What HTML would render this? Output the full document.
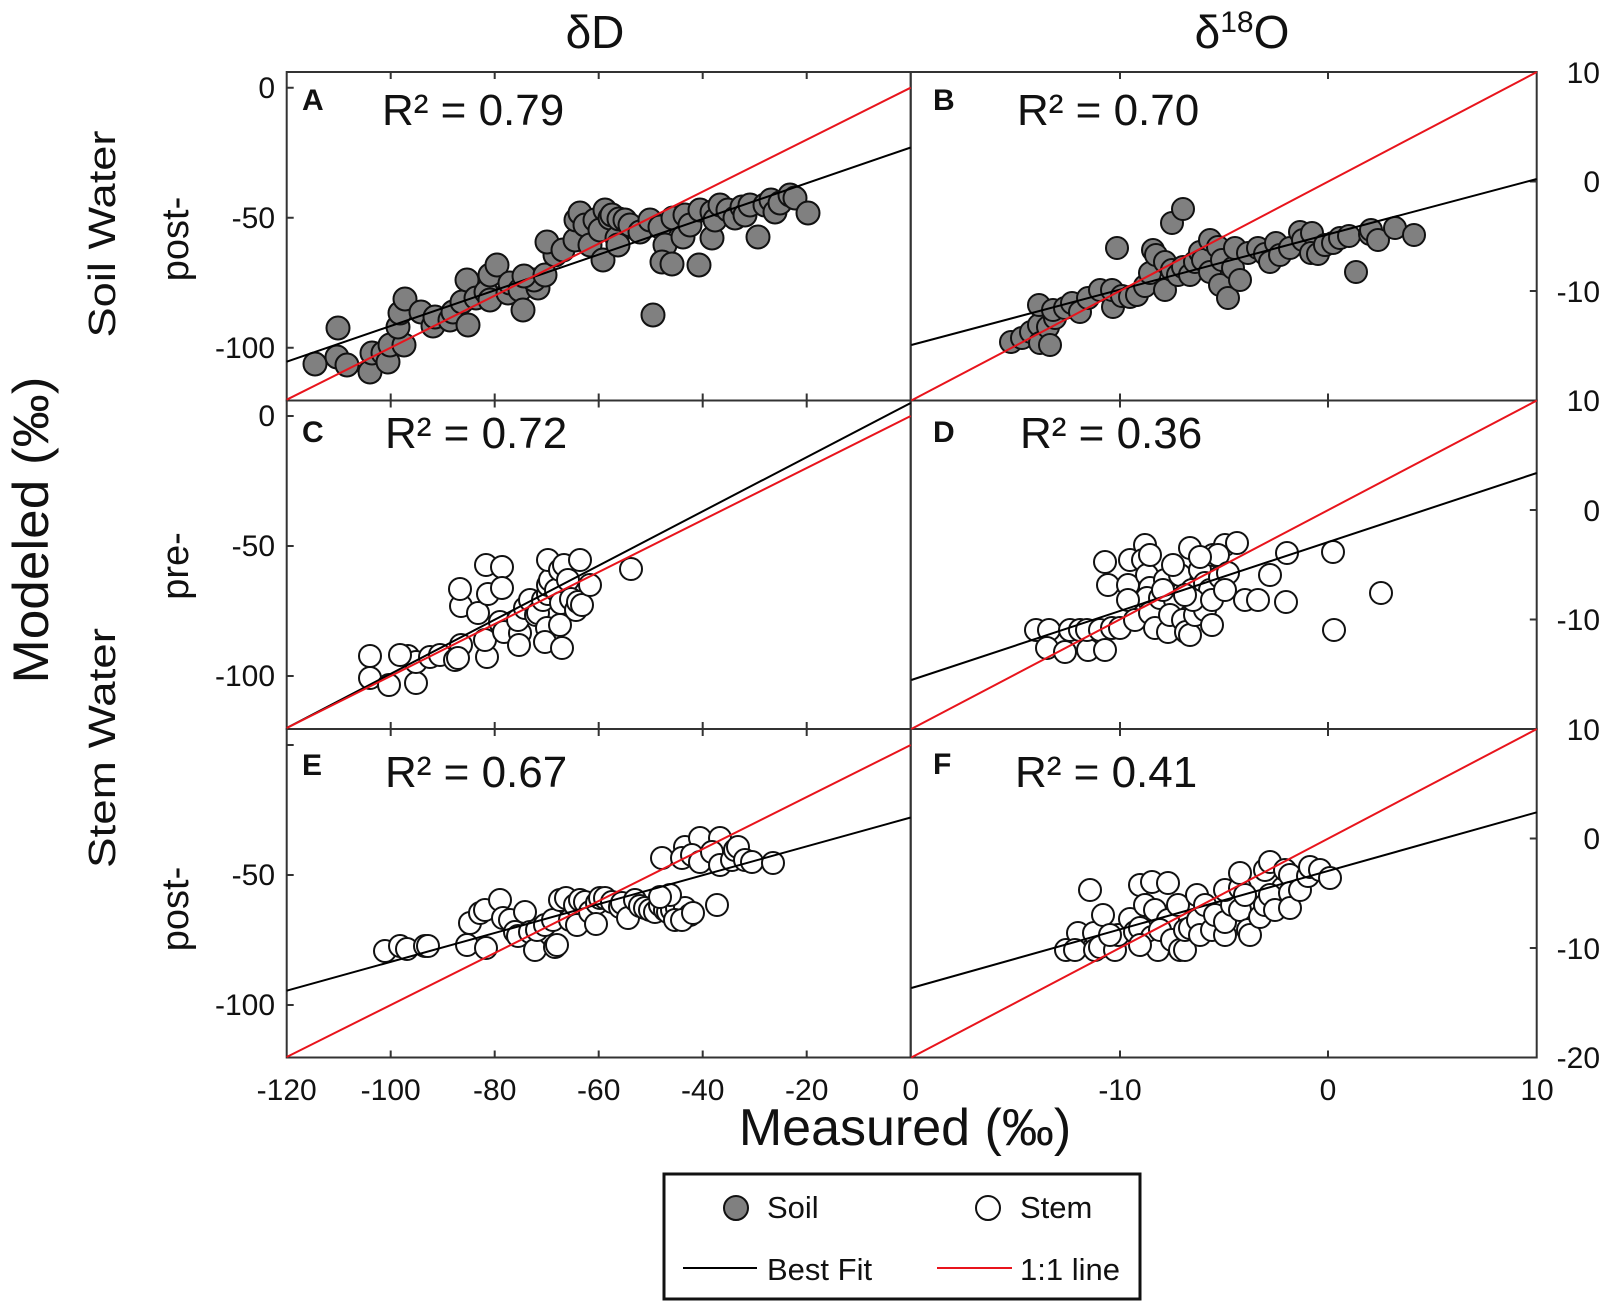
<!DOCTYPE html>
<html><head><meta charset="utf-8"><style>
html,body{margin:0;padding:0;background:#fff}
svg{display:block}
text{font-family:"Liberation Sans",Arial,sans-serif;fill:#111}
</style></head><body>
<svg width="1600" height="1302" viewBox="0 0 1600 1302" xmlns="http://www.w3.org/2000/svg">
<text x="595" y="48" font-size="46" text-anchor="middle">δD</text>
<text x="1242" y="48" font-size="46" text-anchor="middle">δ<tspan font-size="30" dy="-16">18</tspan><tspan dy="16">O</tspan></text>
<text transform="translate(48,530) rotate(-90)" font-size="50" text-anchor="middle" textLength="307" lengthAdjust="spacingAndGlyphs">Modeled (‰)</text>
<text transform="translate(115,234) rotate(-90)" font-size="38" text-anchor="middle" textLength="207" lengthAdjust="spacingAndGlyphs">Soil Water</text>
<text transform="translate(188,239) rotate(-90)" font-size="38" text-anchor="middle">post-</text>
<text transform="translate(188,566) rotate(-90)" font-size="38" text-anchor="middle">pre-</text>
<text transform="translate(115,748) rotate(-90)" font-size="38" text-anchor="middle" textLength="240" lengthAdjust="spacingAndGlyphs">Stem Water</text>
<text transform="translate(188,909) rotate(-90)" font-size="38" text-anchor="middle">post-</text>
<text x="905" y="1145" font-size="52" text-anchor="middle">Measured (‰)</text>

<g font-size="30" text-anchor="middle">
<text x="286.7" y="1100">-120</text><text x="390.7" y="1100">-100</text><text x="494.7" y="1100">-80</text>
<text x="598.7" y="1100">-60</text><text x="702.7" y="1100">-40</text><text x="806.7" y="1100">-20</text>
<text x="910.7" y="1100">0</text><text x="1120" y="1100">-10</text><text x="1328" y="1100">0</text><text x="1537" y="1100">10</text>
</g>
<g font-size="30" text-anchor="end">
<text x="275" y="98">0</text><text x="275" y="228">-50</text><text x="275" y="358">-100</text>
<text x="275" y="426">0</text><text x="275" y="556">-50</text><text x="275" y="686">-100</text>
<text x="275" y="885">-50</text><text x="275" y="1015">-100</text>
</g>
<g font-size="30" text-anchor="end">
<text x="1600" y="83">10</text><text x="1600" y="192">0</text><text x="1600" y="302">-10</text>
<text x="1600" y="411">10</text><text x="1600" y="521">0</text><text x="1600" y="630">-10</text>
<text x="1600" y="740">10</text><text x="1600" y="849">0</text><text x="1600" y="959">-10</text><text x="1600" y="1068">-20</text>
</g>

<g fill="none" stroke="#333" stroke-width="2">
<rect x="286.7" y="72" width="624" height="328.5"/>
<rect x="286.7" y="400.5" width="624" height="328.5"/>
<rect x="286.7" y="729" width="624" height="328.5"/>
<rect x="910.7" y="72" width="626" height="328.5"/>
<rect x="910.7" y="400.5" width="626" height="328.5"/>
<rect x="910.7" y="729" width="626" height="328.5"/>
</g>
<g stroke="#333" stroke-width="2">
<path d="M390.7 72v7M494.7 72v7M598.7 72v7M702.7 72v7M806.7 72v7M390.7 400.5v-7M494.7 400.5v-7M598.7 400.5v-7M702.7 400.5v-7M806.7 400.5v-7
M390.7 400.5v7M494.7 400.5v7M598.7 400.5v7M702.7 400.5v7M806.7 400.5v7M390.7 729v-7M494.7 729v-7M598.7 729v-7M702.7 729v-7M806.7 729v-7
M390.7 729v7M494.7 729v7M598.7 729v7M702.7 729v7M806.7 729v7M390.7 1057.5v-7M494.7 1057.5v-7M598.7 1057.5v-7M702.7 1057.5v-7M806.7 1057.5v-7
M1120 72v7M1328 72v7M1120 400.5v-7M1328 400.5v-7M1120 400.5v7M1328 400.5v7M1120 729v-7M1328 729v-7M1120 729v7M1328 729v7M1120 1057.5v-7M1328 1057.5v-7
M286.7 87.7h7M286.7 217.7h7M286.7 347.7h7M286.7 416h7M286.7 546h7M286.7 676h7M286.7 745h7M286.7 875h7M286.7 1005h7
M1536.8 181.5h-7M1536.8 291h-7M1536.8 510h-7M1536.8 619.5h-7M1536.8 838.5h-7M1536.8 948h-7"/>
</g>

<g font-size="30" font-weight="bold">
<text x="302" y="110">A</text><text x="933" y="110">B</text>
<text x="302" y="442">C</text><text x="933" y="442">D</text>
<text x="302" y="775">E</text><text x="933" y="774">F</text>
</g>
<g font-size="44">
<text x="382" y="125">R² = 0.79</text><text x="1017" y="125">R² = 0.70</text>
<text x="385" y="448">R² = 0.72</text><text x="1020" y="448">R² = 0.36</text>
<text x="385" y="787">R² = 0.67</text><text x="1015" y="787">R² = 0.41</text>
</g>

<!-- Panel A points -->
<g fill="#808080" stroke="#111" stroke-width="2">
<circle cx="315" cy="364" r="11.5"/><circle cx="337" cy="357" r="11.5"/><circle cx="338" cy="328" r="11.5"/><circle cx="347" cy="365" r="11.5"/><circle cx="370" cy="372" r="11.5"/><circle cx="372" cy="353" r="11.5"/><circle cx="383" cy="353" r="11.5"/><circle cx="388" cy="362" r="11.5"/><circle cx="390" cy="345" r="11.5"/><circle cx="404" cy="345" r="11.5"/><circle cx="398" cy="327" r="11.5"/><circle cx="400" cy="313" r="11.5"/><circle cx="405" cy="299" r="11.5"/><circle cx="421" cy="312" r="11.5"/><circle cx="433" cy="326" r="11.5"/><circle cx="435" cy="317" r="11.5"/><circle cx="450" cy="320" r="11.5"/><circle cx="453" cy="312" r="11.5"/><circle cx="462" cy="302" r="11.5"/><circle cx="468" cy="325" r="11.5"/><circle cx="467" cy="280" r="11.5"/><circle cx="476" cy="298" r="11.5"/><circle cx="486" cy="292" r="11.5"/><circle cx="490" cy="275" r="11.5"/><circle cx="497" cy="265" r="11.5"/><circle cx="490" cy="300" r="11.5"/><circle cx="508" cy="293" r="11.5"/><circle cx="510" cy="283" r="11.5"/><circle cx="520" cy="290" r="11.5"/><circle cx="538" cy="288" r="11.5"/><circle cx="534" cy="280" r="11.5"/><circle cx="523" cy="310" r="11.5"/><circle cx="524" cy="276" r="11.5"/><circle cx="545" cy="275" r="11.5"/><circle cx="555" cy="255" r="11.5"/><circle cx="547" cy="242" r="11.5"/><circle cx="563" cy="250" r="11.5"/><circle cx="575" cy="240" r="11.5"/><circle cx="576" cy="220" r="11.5"/><circle cx="580" cy="213" r="11.5"/><circle cx="585" cy="225" r="11.5"/><circle cx="590" cy="245" r="11.5"/><circle cx="595" cy="220" r="11.5"/><circle cx="600" cy="230" r="11.5"/><circle cx="605" cy="210" r="11.5"/><circle cx="603" cy="260" r="11.5"/><circle cx="610" cy="218" r="11.5"/><circle cx="612" cy="215" r="11.5"/><circle cx="617" cy="238" r="11.5"/><circle cx="618" cy="245" r="11.5"/><circle cx="619" cy="219" r="11.5"/><circle cx="625" cy="220" r="11.5"/><circle cx="630" cy="225" r="11.5"/><circle cx="640" cy="232" r="11.5"/><circle cx="650" cy="220" r="11.5"/><circle cx="660" cy="227" r="11.5"/><circle cx="665" cy="245" r="11.5"/><circle cx="673" cy="218" r="11.5"/><circle cx="683" cy="237" r="11.5"/><circle cx="685" cy="215" r="11.5"/><circle cx="690" cy="225" r="11.5"/><circle cx="700" cy="210" r="11.5"/><circle cx="712" cy="212" r="11.5"/><circle cx="712" cy="238" r="11.5"/><circle cx="715" cy="220" r="11.5"/><circle cx="720" cy="205" r="11.5"/><circle cx="728" cy="210" r="11.5"/><circle cx="735" cy="218" r="11.5"/><circle cx="742" cy="207" r="11.5"/><circle cx="745" cy="215" r="11.5"/><circle cx="750" cy="205" r="11.5"/><circle cx="758" cy="237" r="11.5"/><circle cx="765" cy="205" r="11.5"/><circle cx="771" cy="200" r="11.5"/><circle cx="775" cy="212" r="11.5"/><circle cx="780" cy="203" r="11.5"/><circle cx="790" cy="195" r="11.5"/><circle cx="795" cy="198" r="11.5"/><circle cx="808" cy="213" r="11.5"/><circle cx="662" cy="262" r="11.5"/><circle cx="672" cy="264" r="11.5"/><circle cx="699" cy="265" r="11.5"/><circle cx="653" cy="315" r="11.5"/>
</g>

<!-- Panel B points -->
<g fill="#808080" stroke="#111" stroke-width="2">
<circle cx="1011" cy="342" r="11"/><circle cx="1022" cy="338" r="11"/><circle cx="1031" cy="332" r="11"/><circle cx="1039" cy="325" r="11"/><circle cx="1040" cy="343" r="11"/><circle cx="1048" cy="327" r="11"/><circle cx="1050" cy="345" r="11"/><circle cx="1055" cy="318" r="11"/><circle cx="1039" cy="305" r="11"/><circle cx="1053" cy="310" r="11"/><circle cx="1065" cy="308" r="11"/><circle cx="1072" cy="303" r="11"/><circle cx="1080" cy="312" r="11"/><circle cx="1088" cy="298" r="11"/><circle cx="1100" cy="290" r="11"/><circle cx="1113" cy="307" r="11"/><circle cx="1112" cy="290" r="11"/><circle cx="1122" cy="296" r="11"/><circle cx="1130" cy="297" r="11"/><circle cx="1137" cy="295" r="11"/><circle cx="1145" cy="286" r="11"/><circle cx="1150" cy="273" r="11"/><circle cx="1153" cy="250" r="11"/><circle cx="1156" cy="255" r="11"/><circle cx="1165" cy="290" r="11"/><circle cx="1165" cy="262" r="11"/><circle cx="1172" cy="270" r="11"/><circle cx="1178" cy="275" r="11"/><circle cx="1183" cy="267" r="11"/><circle cx="1172" cy="223" r="11"/><circle cx="1183" cy="209" r="11"/><circle cx="1117" cy="248" r="11"/><circle cx="1190" cy="275" r="11"/><circle cx="1195" cy="262" r="11"/><circle cx="1200" cy="252" r="11"/><circle cx="1203" cy="260" r="11"/><circle cx="1210" cy="272" r="11"/><circle cx="1210" cy="240" r="11"/><circle cx="1218" cy="247" r="11"/><circle cx="1222" cy="260" r="11"/><circle cx="1220" cy="285" r="11"/><circle cx="1228" cy="298" r="11"/><circle cx="1233" cy="268" r="11"/><circle cx="1235" cy="248" r="11"/><circle cx="1240" cy="280" r="11"/><circle cx="1248" cy="253" r="11"/><circle cx="1258" cy="248" r="11"/><circle cx="1265" cy="254" r="11"/><circle cx="1270" cy="262" r="11"/><circle cx="1276" cy="243" r="11"/><circle cx="1280" cy="255" r="11"/><circle cx="1290" cy="248" r="11"/><circle cx="1300" cy="232" r="11"/><circle cx="1303" cy="240" r="11"/><circle cx="1312" cy="233" r="11"/><circle cx="1311" cy="253" r="11"/><circle cx="1318" cy="254" r="11"/><circle cx="1325" cy="245" r="11"/><circle cx="1333" cy="243" r="11"/><circle cx="1340" cy="238" r="11"/><circle cx="1349" cy="236" r="11"/><circle cx="1356" cy="272" r="11"/><circle cx="1370" cy="234" r="11"/><circle cx="1371" cy="230" r="11"/><circle cx="1378" cy="240" r="11"/><circle cx="1395" cy="228" r="11"/><circle cx="1414" cy="235" r="11"/>
</g>

<!-- Panel C points -->
<g fill="#fff" stroke="#111" stroke-width="2">
<circle cx="370" cy="656" r="11"/><circle cx="370" cy="678" r="11"/><circle cx="389" cy="685" r="11"/><circle cx="416" cy="683" r="11"/><circle cx="408" cy="656" r="11"/><circle cx="416" cy="662" r="11"/><circle cx="400" cy="655" r="11"/><circle cx="430" cy="657" r="11"/><circle cx="440" cy="655" r="11"/><circle cx="455" cy="660" r="11"/><circle cx="461" cy="645" r="11"/><circle cx="458" cy="658" r="11"/><circle cx="487" cy="657" r="11"/><circle cx="485" cy="640" r="11"/><circle cx="461" cy="606" r="11"/><circle cx="460" cy="589" r="11"/><circle cx="478" cy="613" r="11"/><circle cx="488" cy="594" r="11"/><circle cx="486" cy="565" r="11"/><circle cx="502" cy="567" r="11"/><circle cx="500" cy="622" r="11"/><circle cx="504" cy="632" r="11"/><circle cx="520" cy="633" r="11"/><circle cx="519" cy="645" r="11"/><circle cx="502" cy="588" r="11"/><circle cx="518" cy="620" r="11"/><circle cx="525" cy="608" r="11"/><circle cx="530" cy="600" r="11"/><circle cx="536" cy="615" r="11"/><circle cx="538" cy="613" r="11"/><circle cx="543" cy="600" r="11"/><circle cx="548" cy="594" r="11"/><circle cx="548" cy="585" r="11"/><circle cx="550" cy="580" r="11"/><circle cx="548" cy="560" r="11"/><circle cx="547" cy="628" r="11"/><circle cx="545" cy="642" r="11"/><circle cx="556" cy="590" r="11"/><circle cx="560" cy="570" r="11"/><circle cx="561" cy="603" r="11"/><circle cx="562" cy="648" r="11"/><circle cx="560" cy="625" r="11"/><circle cx="564" cy="565" r="11"/><circle cx="568" cy="580" r="11"/><circle cx="571" cy="599" r="11"/><circle cx="576" cy="610" r="11"/><circle cx="578" cy="602" r="11"/><circle cx="580" cy="560" r="11"/><circle cx="582" cy="605" r="11"/><circle cx="590" cy="585" r="11"/><circle cx="631" cy="569" r="11"/>
</g>

<!-- Panel E points -->
<g fill="#fff" stroke="#111" stroke-width="2">
<circle cx="385" cy="951" r="11"/><circle cx="400" cy="946" r="11"/><circle cx="407" cy="949" r="11"/><circle cx="425" cy="946" r="11"/><circle cx="428" cy="946" r="11"/><circle cx="467" cy="945" r="11"/><circle cx="470" cy="923" r="11"/><circle cx="480" cy="913" r="11"/><circle cx="486" cy="948" r="11"/><circle cx="485" cy="910" r="11"/><circle cx="500" cy="900" r="11"/><circle cx="503" cy="918" r="11"/><circle cx="510" cy="920" r="11"/><circle cx="515" cy="932" r="11"/><circle cx="518" cy="936" r="11"/><circle cx="525" cy="912" r="11"/><circle cx="530" cy="932" r="11"/><circle cx="535" cy="950" r="11"/><circle cx="537" cy="930" r="11"/><circle cx="545" cy="925" r="11"/><circle cx="553" cy="920" r="11"/><circle cx="555" cy="947" r="11"/><circle cx="557" cy="945" r="11"/><circle cx="560" cy="900" r="11"/><circle cx="566" cy="898" r="11"/><circle cx="570" cy="920" r="11"/><circle cx="575" cy="905" r="11"/><circle cx="577" cy="925" r="11"/><circle cx="580" cy="900" r="11"/><circle cx="585" cy="902" r="11"/><circle cx="590" cy="912" r="11"/><circle cx="597" cy="903" r="11"/><circle cx="596" cy="924" r="11"/><circle cx="600" cy="898" r="11"/><circle cx="605" cy="898" r="11"/><circle cx="612" cy="902" r="11"/><circle cx="620" cy="907" r="11"/><circle cx="622" cy="903" r="11"/><circle cx="628" cy="918" r="11"/><circle cx="635" cy="900" r="11"/><circle cx="640" cy="906" r="11"/><circle cx="645" cy="908" r="11"/><circle cx="650" cy="910" r="11"/><circle cx="655" cy="912" r="11"/><circle cx="660" cy="905" r="11"/><circle cx="665" cy="910" r="11"/><circle cx="668" cy="912" r="11"/><circle cx="672" cy="910" r="11"/><circle cx="677" cy="908" r="11"/><circle cx="685" cy="908" r="11"/><circle cx="690" cy="915" r="11"/><circle cx="670" cy="895" r="11"/><circle cx="660" cy="897" r="11"/><circle cx="675" cy="920" r="11"/><circle cx="682" cy="920" r="11"/><circle cx="693" cy="913" r="11"/><circle cx="717" cy="905" r="11"/>
<circle cx="662" cy="858" r="11"/><circle cx="685" cy="847" r="11"/><circle cx="700" cy="838" r="11"/><circle cx="720" cy="838" r="11"/><circle cx="682" cy="858" r="11"/><circle cx="692" cy="855" r="11"/><circle cx="700" cy="862" r="11"/><circle cx="712" cy="852" r="11"/><circle cx="720" cy="865" r="11"/><circle cx="732" cy="860" r="11"/><circle cx="735" cy="850" r="11"/><circle cx="738" cy="847" r="11"/><circle cx="745" cy="860" r="11"/><circle cx="752" cy="862" r="11"/><circle cx="773" cy="863" r="11"/>
</g>

<!-- Panel D points -->
<g fill="#fff" stroke="#111" stroke-width="2">
<circle cx="1036" cy="630" r="11"/><circle cx="1049" cy="630" r="11"/><circle cx="1047" cy="648" r="11"/><circle cx="1065" cy="652" r="11"/><circle cx="1070" cy="630" r="11"/><circle cx="1080" cy="630" r="11"/><circle cx="1088" cy="650" r="11"/><circle cx="1087" cy="630" r="11"/><circle cx="1100" cy="630" r="11"/><circle cx="1105" cy="650" r="11"/><circle cx="1112" cy="628" r="11"/><circle cx="1120" cy="628" r="11"/><circle cx="1105" cy="562" r="11"/><circle cx="1108" cy="585" r="11"/><circle cx="1128" cy="585" r="11"/><circle cx="1130" cy="560" r="11"/><circle cx="1145" cy="545" r="11"/><circle cx="1143" cy="560" r="11"/><circle cx="1147" cy="575" r="11"/><circle cx="1150" cy="588" r="11"/><circle cx="1147" cy="598" r="11"/><circle cx="1128" cy="600" r="11"/><circle cx="1135" cy="620" r="11"/><circle cx="1150" cy="613" r="11"/><circle cx="1155" cy="628" r="11"/><circle cx="1160" cy="598" r="11"/><circle cx="1165" cy="580" r="11"/><circle cx="1168" cy="632" r="11"/><circle cx="1175" cy="600" r="11"/><circle cx="1180" cy="575" r="11"/><circle cx="1170" cy="615" r="11"/><circle cx="1183" cy="620" r="11"/><circle cx="1186" cy="632" r="11"/><circle cx="1190" cy="635" r="11"/><circle cx="1195" cy="615" r="11"/><circle cx="1190" cy="548" r="11"/><circle cx="1192" cy="590" r="11"/><circle cx="1200" cy="570" r="11"/><circle cx="1205" cy="583" r="11"/><circle cx="1205" cy="610" r="11"/><circle cx="1210" cy="590" r="11"/><circle cx="1212" cy="625" r="11"/><circle cx="1213" cy="555" r="11"/><circle cx="1193" cy="600" r="11"/><circle cx="1220" cy="577" r="11"/><circle cx="1225" cy="545" r="11"/><circle cx="1237" cy="543" r="11"/><circle cx="1218" cy="555" r="11"/><circle cx="1245" cy="600" r="11"/><circle cx="1228" cy="573" r="11"/><circle cx="1258" cy="600" r="11"/><circle cx="1270" cy="575" r="11"/><circle cx="1287" cy="553" r="11"/><circle cx="1286" cy="602" r="11"/><circle cx="1333" cy="552" r="11"/><circle cx="1334" cy="630" r="11"/><circle cx="1381" cy="593" r="11"/><circle cx="1185" cy="595" r="11"/><circle cx="1163" cy="590" r="11"/><circle cx="1200" cy="557" r="11"/><circle cx="1173" cy="565" r="11"/><circle cx="1150" cy="555" r="11"/><circle cx="1212" cy="600" r="11"/><circle cx="1225" cy="590" r="11"/>
</g>

<!-- Panel F points -->
<g fill="#fff" stroke="#111" stroke-width="2">
<circle cx="1090" cy="890" r="11"/><circle cx="1066" cy="950" r="11"/><circle cx="1078" cy="933" r="11"/><circle cx="1075" cy="950" r="11"/><circle cx="1094" cy="933" r="11"/><circle cx="1095" cy="950" r="11"/><circle cx="1100" cy="947" r="11"/><circle cx="1103" cy="915" r="11"/><circle cx="1115" cy="950" r="11"/><circle cx="1118" cy="935" r="11"/><circle cx="1110" cy="935" r="11"/><circle cx="1130" cy="919" r="11"/><circle cx="1135" cy="932" r="11"/><circle cx="1140" cy="928" r="11"/><circle cx="1152" cy="937" r="11"/><circle cx="1158" cy="950" r="11"/><circle cx="1140" cy="945" r="11"/><circle cx="1140" cy="885" r="11"/><circle cx="1152" cy="882" r="11"/><circle cx="1168" cy="883" r="11"/><circle cx="1145" cy="905" r="11"/><circle cx="1155" cy="910" r="11"/><circle cx="1168" cy="920" r="11"/><circle cx="1160" cy="930" r="11"/><circle cx="1172" cy="940" r="11"/><circle cx="1180" cy="950" r="11"/><circle cx="1185" cy="950" r="11"/><circle cx="1178" cy="905" r="11"/><circle cx="1185" cy="930" r="11"/><circle cx="1190" cy="928" r="11"/><circle cx="1197" cy="895" r="11"/><circle cx="1198" cy="920" r="11"/><circle cx="1200" cy="935" r="11"/><circle cx="1205" cy="905" r="11"/><circle cx="1212" cy="930" r="11"/><circle cx="1215" cy="915" r="11"/><circle cx="1225" cy="935" r="11"/><circle cx="1225" cy="922" r="11"/><circle cx="1232" cy="905" r="11"/><circle cx="1225" cy="890" r="11"/><circle cx="1240" cy="888" r="11"/><circle cx="1240" cy="910" r="11"/><circle cx="1245" cy="895" r="11"/><circle cx="1248" cy="930" r="11"/><circle cx="1250" cy="935" r="11"/><circle cx="1260" cy="917" r="11"/><circle cx="1265" cy="905" r="11"/><circle cx="1265" cy="870" r="11"/><circle cx="1240" cy="873" r="11"/><circle cx="1270" cy="862" r="11"/><circle cx="1283" cy="888" r="11"/><circle cx="1285" cy="870" r="11"/><circle cx="1270" cy="895" r="11"/><circle cx="1275" cy="910" r="11"/><circle cx="1290" cy="875" r="11"/><circle cx="1290" cy="893" r="11"/><circle cx="1290" cy="908" r="11"/><circle cx="1300" cy="890" r="11"/><circle cx="1308" cy="876" r="11"/><circle cx="1310" cy="867" r="11"/><circle cx="1320" cy="870" r="11"/><circle cx="1330" cy="878" r="11"/>
</g>

<g stroke-width="2" fill="none">
<line x1="286.7" y1="361.7" x2="910.7" y2="147.5" stroke="#000"/>
<line x1="286.7" y1="399.7" x2="910.7" y2="87.7" stroke="#e8141c"/>
<line x1="911.3" y1="345" x2="1536.8" y2="179" stroke="#000"/>
<line x1="911.3" y1="400.5" x2="1536.8" y2="72" stroke="#e8141c"/>
<line x1="286.7" y1="728" x2="910.7" y2="403" stroke="#000"/>
<line x1="286.7" y1="728" x2="910.7" y2="416" stroke="#e8141c"/>
<line x1="911.3" y1="680" x2="1536.8" y2="473" stroke="#000"/>
<line x1="911.3" y1="729" x2="1536.8" y2="400.5" stroke="#e8141c"/>
<line x1="286.7" y1="990.7" x2="910.7" y2="817.5" stroke="#000"/>
<line x1="286.7" y1="1057" x2="910.7" y2="745" stroke="#e8141c"/>
<line x1="911.3" y1="988" x2="1536.8" y2="812.3" stroke="#000"/>
<line x1="911.3" y1="1057.5" x2="1536.8" y2="729" stroke="#e8141c"/>
</g>

<rect x="664" y="1174" width="476" height="125" fill="#fff" stroke="#111" stroke-width="3"/>
<circle cx="736" cy="1208" r="12" fill="#808080" stroke="#111" stroke-width="2"/>
<text x="767" y="1218" font-size="31">Soil</text>
<circle cx="988" cy="1208" r="12" fill="#fff" stroke="#111" stroke-width="2"/>
<text x="1020" y="1218" font-size="31">Stem</text>
<line x1="683" y1="1268" x2="757" y2="1268" stroke="#000" stroke-width="2"/>
<text x="767" y="1280" font-size="31">Best Fit</text>
<line x1="937" y1="1268" x2="1012" y2="1268" stroke="#e8141c" stroke-width="2"/>
<text x="1020" y="1280" font-size="31">1:1 line</text>
</svg>
</body></html>
